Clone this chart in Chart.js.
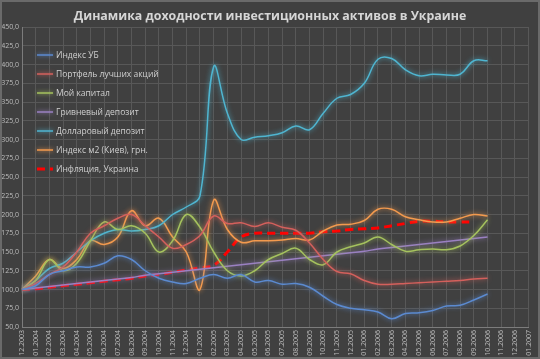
<!DOCTYPE html>
<html><head><meta charset="utf-8">
<script src="https://cdn.jsdelivr.net/npm/chart.js@4/dist/chart.umd.min.js"></script>
<style>
html,body{margin:0;padding:0;background:#404040;}
canvas{display:block;}
</style></head><body>
<canvas id="c" width="540" height="359"></canvas>
<script>
const TITLE = 'Динамика доходности инвестиционных активов в Украине';
const categories = ['12.2003','01.2004','02.2004','03.2004','04.2004','05.2004','06.2004','07.2004','08.2004','09.2004','10.2004','11.2004','12.2004','01.2005','02.2005','03.2005','04.2005','05.2005','06.2005','07.2005','08.2005','09.2005','10.2005','11.2005','12.2005','01.2006','02.2006','03.2006','04.2006','05.2006','06.2006','07.2006','08.2006','09.2006','10.2006','11.2006','12.2006','01.2007'];
const seriesNames = ['Индекс УБ','Портфель лучших акций','Мой капитал','Гривневый депозит','Долларовый депозит','Индекс м2 (Киев), грн.','Инфляция, Украина'];
const indexUB =      [100,105,120,125,130,130,135,145,140,125,115,110,108,115,120,115,120,110,112,107,108,103,91,80,75,73,70,61,68,69,72,78,79,86,94,null,null,null];
const portfolio =    [100,108,120,130,150,175,185,195,200,185,170,155,160,172,198,188,189,184,189,183,179,162,140,124,121,112,107,107,108,109,110,111,112,114,115,null,null,null];
const myCapital =    [100,112,140,125,135,165,190,180,185,175,150,165,200,183,150,125,118,125,140,148,155,140,133,150,157,162,170,160,151,153,154,153,158,172,193,null,null,null];
const uahDeposit =   [100,102,104,106,108,110,112,114,116,119,121,123,125,127,129,131,133,135,137,139,141,143,145,147,149,151,154,156,158,160,162,164,166,168,170,null,null,null];
const usdDeposit =   [100,112,128,135,150,165,175,180,178,180,185,200,210,225,397,335,300,303,305,309,318,313,335,355,360,375,407,408,393,385,387,386,387,405,405,null,null,null];
const m2Index =      [100,118,140,128,140,165,160,170,205,185,195,170,150,100,219,180,163,165,165,166,168,166,178,186,187,192,207,207,197,193,190,190,195,200,198,null,null,null];
const inflation =    [100,101,103,105,107,109,111,113,115,118,120,123,126,129,132,150,170,175,175,175,175,175,177,178,180,181,182,185,188,191,191,190,190,190,null,null,null,null];
const yTicksMin = 50, yTicksMax = 450, yTicksStep = 25;

const colors = ['#5b8ad0','#d4605c','#a5c25e','#9a80c2','#4fb5d0','#f39a4e','#ff0000'];
const allData = [indexUB, portfolio, myCapital, uahDeposit, usdDeposit, m2Index, inflation];

const datasets = allData.map((d,i)=>({
  label: seriesNames[i],
  data: d,
  borderColor: colors[i],
  backgroundColor: colors[i],
  borderWidth: i===6 ? 3 : 1.5,
  borderDash: i===6 ? [8,5] : [],
  pointRadius: 0,
  tension: 0.4,
  fill: false,
  spanGaps: false
}));

const bgPlugin = {
  id:'bg',
  beforeDraw(chart){
    const c=chart.ctx; c.save(); c.fillStyle='#404040'; c.fillRect(0,0,chart.width,chart.height); c.restore();
  },
  beforeDatasetDraw(chart,args){
    const ds=chart.data.datasets[args.index];
    chart.ctx.save();
    chart.ctx.shadowColor = ds.borderColor;
    chart.ctx.shadowBlur = args.index===6 ? 0 : 5;
  },
  afterDatasetDraw(chart){ chart.ctx.restore(); },
  afterDraw(chart){
    const c=chart.ctx;
    c.save();
    // title
    let fs=15;
    c.font='bold '+fs+'px "Open Sans"';
    let w=c.measureText(TITLE).width;
    fs = fs*393/w;
    c.font='bold '+fs.toFixed(2)+'px "Open Sans"';
    c.fillStyle='#d6d6d6'; c.textAlign='center'; c.textBaseline='middle';
    c.fillText(TITLE,270,16);
    // legend
    let lf=9;
    c.font=lf+'px "Open Sans"';
    lf = lf*103/c.measureText(seriesNames[1]).width;
    c.font=lf.toFixed(2)+'px "Open Sans"';
    c.textAlign='left';
    chart.data.datasets.forEach((ds,i)=>{
      const y=55+i*19;
      c.save();
      c.strokeStyle=ds.borderColor; c.lineWidth=ds.borderWidth;
      c.setLineDash(ds.borderDash);
      if(i!==6){c.shadowColor=ds.borderColor;c.shadowBlur=4;}
      c.beginPath(); c.moveTo(37,y); c.lineTo(53,y); c.stroke();
      c.restore();
      c.fillStyle='#d0d0d0';
      c.fillText(ds.label,56,y+0.5);
    });
    // border
    c.strokeStyle='#6a6a6a'; c.lineWidth=2; c.strokeRect(1,1,chart.width-2,chart.height-2);
    c.restore();
  }
};

new Chart(document.getElementById('c'), {
  type:'line',
  data:{labels:categories, datasets},
  plugins:[bgPlugin],
  options:{
    responsive:false, animation:false, devicePixelRatio:1,
    layout:{padding:{left:0,top:27,right:4,bottom:0}},
    plugins:{legend:{display:false}, title:{display:false}, tooltip:{enabled:false}},
    scales:{
      x:{
        offset:false,
        grid:{color:'#585858', lineWidth:1, drawTicks:false},
        border:{color:'#7c7c7c'},
        ticks:{autoSkip:false, maxRotation:90, minRotation:90, color:'#bdbdbd', font:{size:7, family:'"Open Sans"'}, padding:3},
        afterFit(s){ s.height=32; }
      },
      y:{
        min:yTicksMin, max:yTicksMax,
        grid:{color:'#585858', lineWidth:1, drawTicks:false},
        border:{color:'#7c7c7c'},
        ticks:{stepSize:yTicksStep, color:'#bdbdbd', font:{size:7, family:'"Open Sans"'}, padding:3,
          callback:v=>v.toFixed(1).replace('.',',')},
        afterFit(s){ s.width=22; }
      }
    }
  }
});
</script>
</body></html>
